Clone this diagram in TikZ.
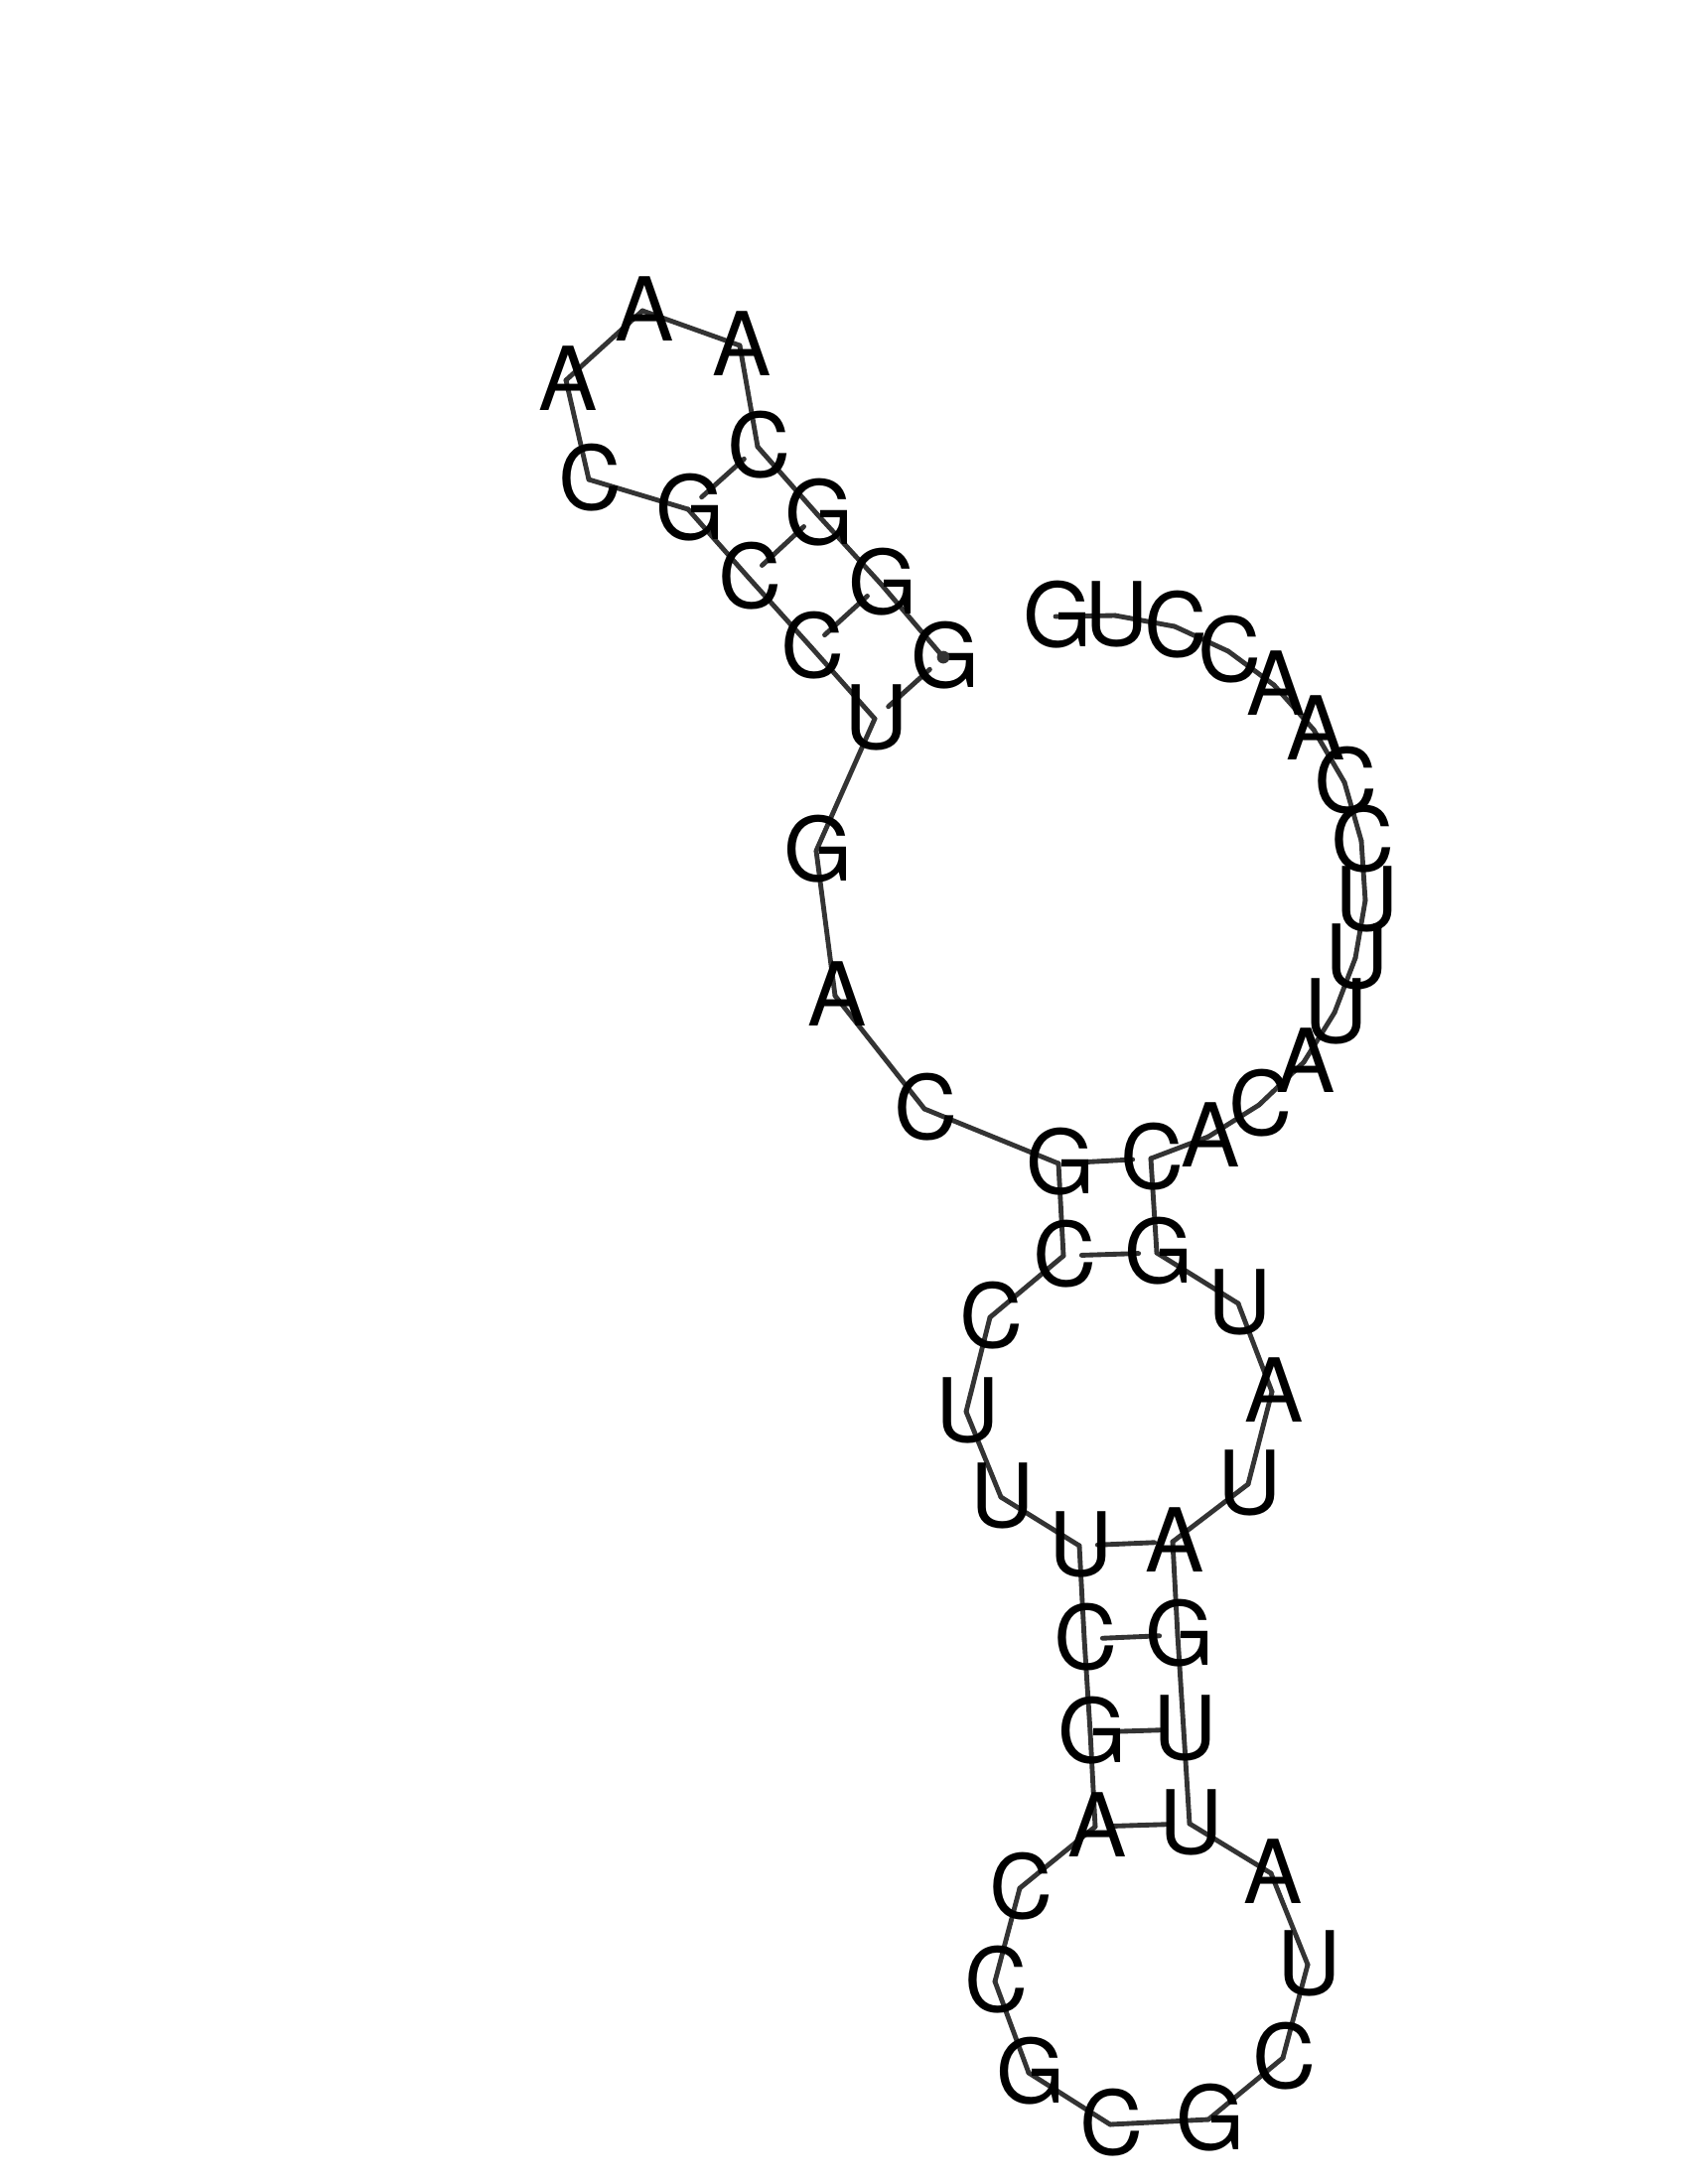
\documentclass[tikz,border=0pt]{standalone}
\usepackage{fontspec}
\setmainfont{TeX Gyre Heros}
\usetikzlibrary{backgrounds}
\definecolor{strand}{HTML}{333333}
\tikzset{
  base/.style={inner sep=0pt,outer sep=0pt,text height=21.6bp,text depth=0pt,font=\fontsize{32bp}{32bp}\selectfont},
  backbone/.style={draw=strand,line width=1.75bp,line cap=round,line join=round},
  basepair/.style={backbone,shorten >=6.6bp,shorten <=6.6bp}
}
\begin{document}
\begin{tikzpicture}[x=0.36bp,y=-0.36bp]
\useasboundingbox (0,0) rectangle (1700,2200);
\foreach \i/\x/\y/\t in {
1/1063/621/G,2/1123/620/U,3/1183/631/C,4/1237/656/C,5/1283/690/A,6/1323/735/A,7/1354/788/C,8/1371/847/C,9/1375/907/U,10/1365/965/U,
11/1344/1020/U,12/1313/1070/A,13/1268/1113/C,14/1217/1145/A,15/1159/1167/C,16/1165/1262/G,17/1247/1313/U,18/1281/1402/A,19/1257/1495/U,20/1181/1553/A,
21/1186/1647/G,22/1192/1742/U,23/1198/1837/U,24/1280/1887/A,25/1317/1979/U,26/1292/2073/C,27/1217/2135/G,28/1118/2140/C,29/1036/2088/G,30/1002/1996/C,
31/1027/1902/C,32/1103/1840/A,33/1098/1745/G,34/1092/1651/C,35/1087/1557/U,36/1008/1508/U,37/973/1422/U,38/997/1327/C,39/1071/1265/C,40/1066/1172/G,
41/931/1117/C,42/841/1003/A,43/822/857/G,44/881/724/U,45/817/652/C,46/754/582/C,47/693/513/G,48/593/483/C,49/570/383/A,50/647/313/A,
51/745/348/A,52/763/450/C,53/823/518/G,54/887/588/G,55/950/662/G}
  {\node[base] (b\i) at (\x,\y) {\kern1.2bp\t};}
\begin{scope}[on background layer]
\foreach \i [evaluate=\i as \j using int(\i+1)] in {1,...,54}
  \draw[backbone] (b\i.center) -- (b\j.center);
\foreach \i/\j in {15/40,16/39,20/35,21/34,22/33,23/32,44/55,45/54,46/53,47/52}
  \draw[basepair] (b\i.center) -- (b\j.center);
\end{scope}
\fill[strand] (b55.center) circle[radius=2.3bp];
\end{tikzpicture}
\end{document}
